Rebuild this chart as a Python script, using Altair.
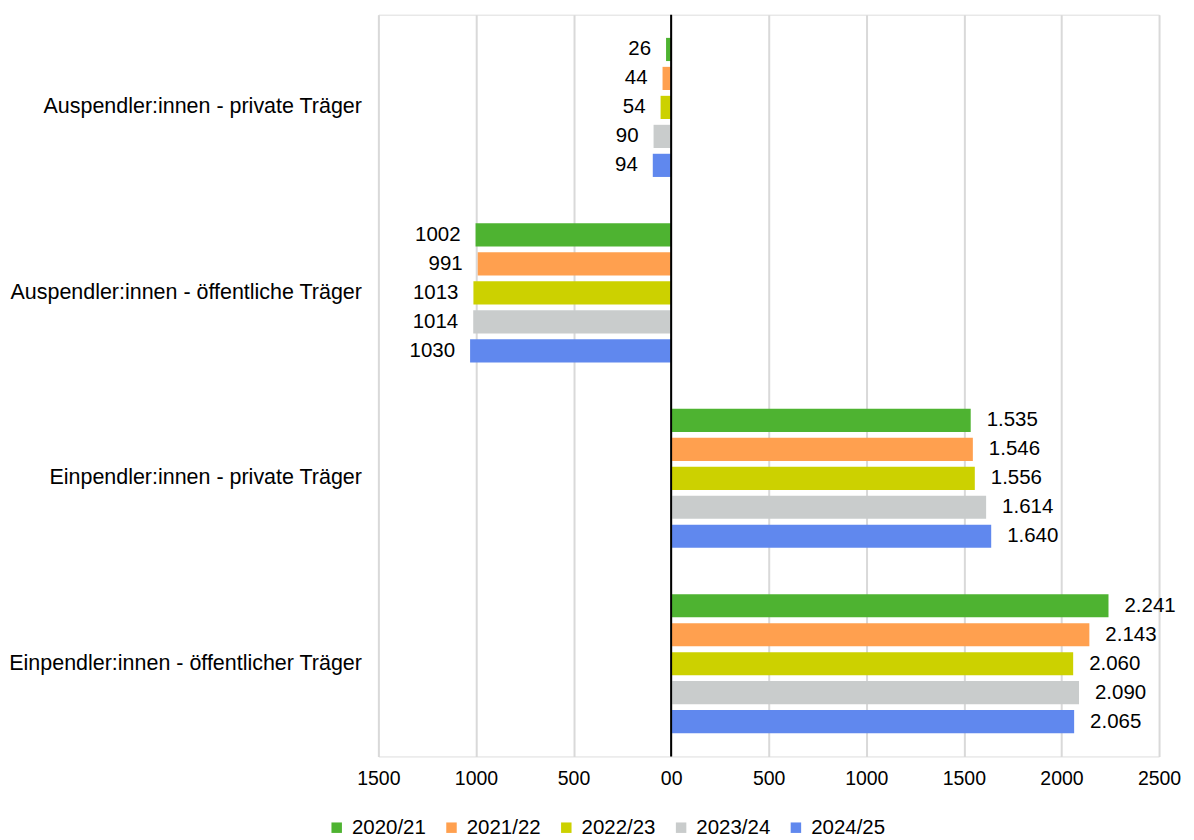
import altair as alt
import pandas as pd

categories = [
    "Auspendler:innen - private Träger",
    "Auspendler:innen - öffentliche Träger",
    "Einpendler:innen - private Träger",
    "Einpendler:innen - öffentlicher Träger",
]
years = ["2020/21", "2021/22", "2022/23", "2023/24", "2024/25"]
colors = ["#4EB331", "#FFA04F", "#CCD100", "#C9CCCC", "#6088EE"]

# values per year, in category order (Auspendler shown as negative)
v_2020 = [-26, -1002, 1535, 2241]
v_2021 = [-44, -991, 1546, 2143]
v_2022 = [-54, -1013, 1556, 2060]
v_2023 = [-90, -1014, 1614, 2090]
v_2024 = [-94, -1030, 1640, 2065]
series = [v_2020, v_2021, v_2022, v_2023, v_2024]

rows = []
for yr, vals in zip(years, series):
    for cat, v in zip(categories, vals):
        lab = str(abs(v)) if v < 0 else f"{v:,}".replace(",", ".")
        rows.append({"cat": cat, "year": yr, "value": v, "label": lab,
                     "side": "neg" if v < 0 else "pos"})
df = pd.DataFrame(rows)

FONT = "Liberation Sans"
FS = 19.5
FS_LEG = 20.5
FS_CAT = 21.5
FS_LAB = 20.5

y_enc = alt.Y("cat:N", sort=categories,
              scale=alt.Scale(paddingInner=0.25, paddingOuter=0.125),
              axis=alt.Axis(title=None, ticks=False, domain=False, grid=False,
                            labelFontSize=FS_CAT, labelFont=FONT, labelColor="black",
                            labelPadding=17, labelLimit=600))
yoff = alt.YOffset("year:N", sort=years, scale=alt.Scale(paddingInner=0.2))

x_enc = alt.X("value:Q",
              scale=alt.Scale(domain=[-1500, 2500], nice=False),
              axis=alt.Axis(title=None, values=list(range(-1500, 2501, 500)),
                            labelExpr="datum.value == 0 ? '00' : format(abs(datum.value), 'd')",
                            ticks=False, domain=False, grid=True, labelFlush=False,
                            gridColor="#D9D9D9", gridWidth=2,
                            labelFontSize=FS, labelFont=FONT, labelColor="black",
                            labelPadding=13))

base = alt.Chart(df)

bars = base.mark_bar().encode(
    x=x_enc,
    y=y_enc,
    yOffset=yoff,
    color=alt.Color("year:N", sort=years,
                    scale=alt.Scale(domain=years, range=colors),
                    legend=alt.Legend(title=None, orient="none", direction="horizontal",
                                      legendX=-52, legendY=804,
                                      symbolType="square", symbolSize=110,
                                      symbolStrokeWidth=0, symbolOpacity=1,
                                      labelFontSize=FS_LEG, labelFont=FONT, labelColor="black",
                                      columnPadding=15, labelOffset=5)),
)

text_pos = base.transform_filter("datum.side == 'pos'").mark_text(
    align="left", baseline="middle", dx=16, fontSize=FS_LAB, font=FONT, color="black"
).encode(x="value:Q", y=alt.Y("cat:N", sort=categories), yOffset=yoff, text="label:N")

text_neg = base.transform_filter("datum.side == 'neg'").mark_text(
    align="right", baseline="middle", dx=-15, fontSize=FS_LAB, font=FONT, color="black"
).encode(x="value:Q", y=alt.Y("cat:N", sort=categories), yOffset=yoff, text="label:N")

zero = alt.Chart(pd.DataFrame({"z": [0]})).mark_rule(color="black", strokeWidth=2).encode(
    x="z:Q"
)

chart = alt.layer(bars, text_neg, text_pos, zero).properties(
    width=782, height=743,
    padding={"left": 0, "top": 5, "right": 5, "bottom": 5},
).configure_view(stroke=None).configure(font=FONT)

chart.save("out.html", embed_options={"renderer": "svg", "actions": False})
